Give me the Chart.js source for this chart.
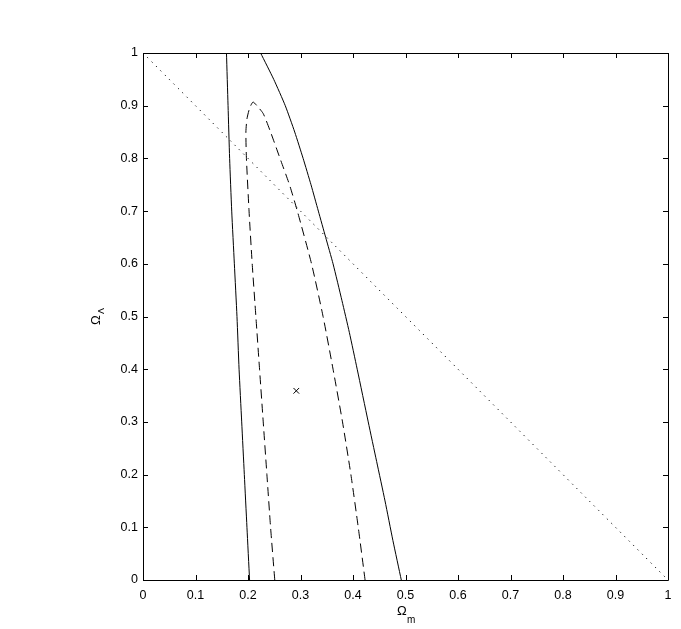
<!DOCTYPE html>
<html>
<head>
<meta charset="utf-8">
<script src="https://cdn.jsdelivr.net/npm/chart.js@4/dist/chart.umd.min.js"></script>
<style>
  html, body { margin: 0; padding: 0; background: #fff; }
  #wrap { width: 681px; height: 629px; }
</style>
</head>
<body>
<div id="wrap"><canvas id="plot"></canvas></div>
<script>
// confidence contours in the (Omega_m, Omega_Lambda) plane
const outerLeftX = [0.203, 0.198, 0.193, 0.188, 0.183, 0.179, 0.174, 0.169, 0.165, 0.162, 0.159];
const outerLeftY = [0, 0.1, 0.2, 0.3, 0.4, 0.5, 0.6, 0.7, 0.8, 0.9, 1.0];

const outerRightX = [0.224, 0.249, 0.271, 0.289, 0.305, 0.320, 0.334, 0.348, 0.362, 0.379, 0.393, 0.408, 0.429, 0.445, 0.461, 0.476, 0.492];
const outerRightY = [1.0, 0.95, 0.9, 0.85, 0.8, 0.75, 0.7, 0.65, 0.6, 0.53, 0.47, 0.4, 0.3, 0.225, 0.15, 0.075, 0];

const innerX = [0.251, 0.243, 0.236, 0.229, 0.222, 0.215, 0.208, 0.202, 0.197, 0.196, 0.198, 0.203, 0.2095,
                0.217, 0.229, 0.243, 0.261, 0.279, 0.294, 0.321, 0.343, 0.362, 0.380, 0.396, 0.410, 0.423];
const innerY = [0, 0.1, 0.2, 0.3, 0.4, 0.5, 0.6, 0.7, 0.8, 0.85, 0.875, 0.895, 0.907,
                0.9, 0.885, 0.85, 0.8, 0.75, 0.7, 0.6, 0.5, 0.4, 0.3, 0.2, 0.1, 0];

const flatX = [0, 1];
const flatY = [1, 0];

const bestFitX = [0.292];
const bestFitY = [0.359];

const tickValues = [0, 0.1, 0.2, 0.3, 0.4, 0.5, 0.6, 0.7, 0.8, 0.9, 1];

function toPoints(xs, ys) {
    return xs.map((x, i) => ({ x: x, y: ys[i] }));
}

const FONT = 'Liberation Sans, Arial, Helvetica, sans-serif';

// matlab style box with inward ticks + axis labels
const framePlugin = {
    id: 'frame',
    afterDraw(chart) {
        const ctx = chart.ctx;
        const a = chart.chartArea;
        const xs = chart.scales.x;
        const ys = chart.scales.y;
        const tl = 5;
        ctx.save();
        ctx.strokeStyle = '#000';
        ctx.lineWidth = 1;
        ctx.beginPath();
        ctx.rect(a.left + 0.5, a.top + 0.5, a.right - a.left, a.bottom - a.top);
        tickValues.forEach(v => {
            const px = Math.round(xs.getPixelForValue(v)) + 0.5;
            ctx.moveTo(px, a.bottom);
            ctx.lineTo(px, a.bottom - tl);
            ctx.moveTo(px, a.top);
            ctx.lineTo(px, a.top + tl);
            const py = Math.round(ys.getPixelForValue(v)) + 0.5;
            ctx.moveTo(a.left, py);
            ctx.lineTo(a.left + tl, py);
            ctx.moveTo(a.right, py);
            ctx.lineTo(a.right - tl, py);
        });
        ctx.stroke();

        ctx.fillStyle = '#000';
        ctx.textBaseline = 'alphabetic';
        ctx.textAlign = 'left';
        // x label
        ctx.font = '13px ' + FONT;
        ctx.fillText('\u03A9', 397, 615);
        ctx.font = '10px ' + FONT;
        ctx.fillText('m', 407, 623);
        // y label, rotated
        ctx.translate(100, 325);
        ctx.rotate(-Math.PI / 2);
        ctx.font = '13px ' + FONT;
        ctx.fillText('\u03A9', 0, 0);
        ctx.font = '9px ' + FONT;
        ctx.fillText('\u039B', 11, 4);
        ctx.restore();
    }
};

const lineStyle = { showLine: true, borderColor: '#000', borderWidth: 1, pointRadius: 0, tension: 0.2 };

new Chart(document.getElementById('plot'), {
    type: 'scatter',
    data: {
        datasets: [
            Object.assign({ data: toPoints(outerLeftX, outerLeftY) }, lineStyle),
            Object.assign({ data: toPoints(outerRightX, outerRightY) }, lineStyle),
            Object.assign({ data: toPoints(innerX, innerY), borderDash: [9, 5] }, lineStyle),
            Object.assign({ data: toPoints(flatX, flatY), borderDash: [1.2, 5] }, lineStyle),
            {
                data: toPoints(bestFitX, bestFitY),
                showLine: false, pointStyle: 'crossRot', pointRadius: 4,
                borderColor: '#000', borderWidth: 1, backgroundColor: '#000'
            }
        ]
    },
    options: {
        responsive: true,
        maintainAspectRatio: false,
        animation: false,
        layout: { padding: { left: 0, top: 53, right: 13, bottom: 0 } },
        plugins: {
            legend: { display: false },
            tooltip: { enabled: false }
        },
        scales: {
            x: {
                type: 'linear', min: 0, max: 1,
                afterFit: s => { s.height = 49; },
                afterBuildTicks: s => { s.ticks = tickValues.map(v => ({ value: v })); },
                grid: { display: false, drawTicks: false },
                border: { display: false },
                ticks: {
                    color: '#000', padding: 8, maxRotation: 0, autoSkip: false,
                    font: { family: FONT, size: 12.5 },
                    callback: v => String(Math.round(v * 10) / 10)
                }
            },
            y: {
                type: 'linear', min: 0, max: 1,
                afterFit: s => { s.width = 143; },
                afterBuildTicks: s => { s.ticks = tickValues.map(v => ({ value: v })); },
                grid: { display: false, drawTicks: false },
                border: { display: false },
                ticks: {
                    color: '#000', padding: 5, autoSkip: false,
                    font: { family: FONT, size: 12.5 },
                    callback: v => String(Math.round(v * 10) / 10)
                }
            }
        }
    },
    plugins: [framePlugin]
});
</script>
</body>
</html>
